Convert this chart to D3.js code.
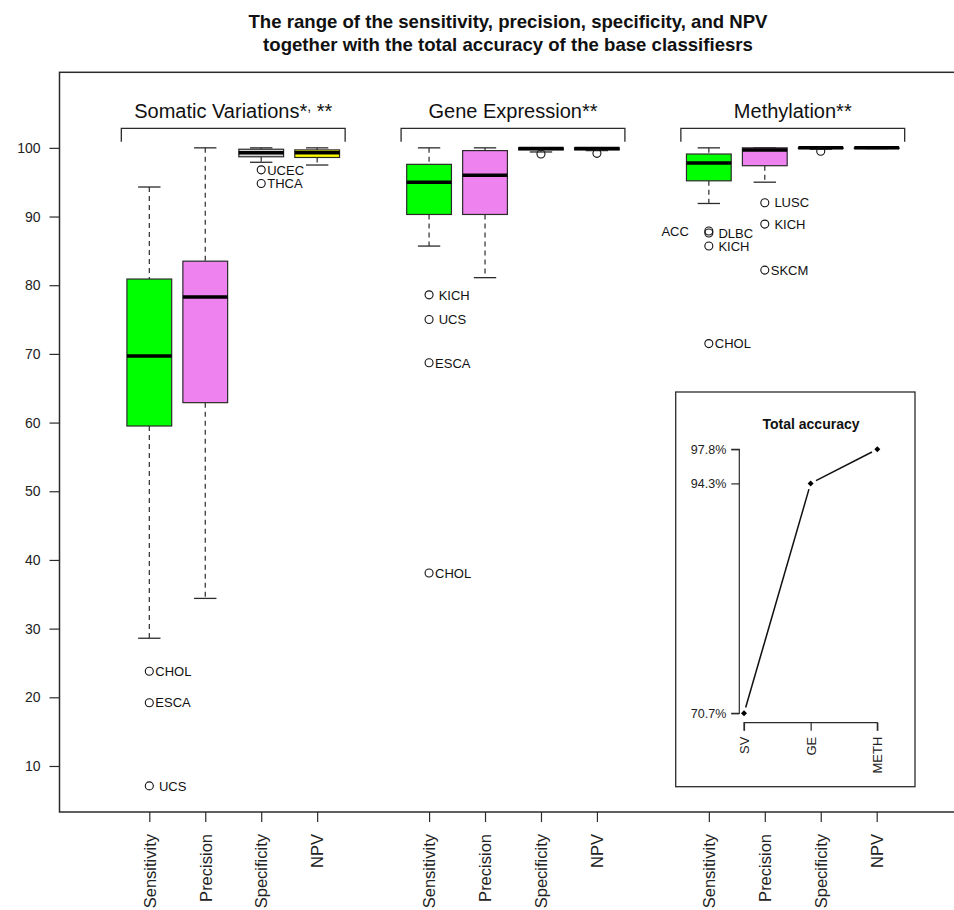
<!DOCTYPE html>
<html>
<head>
<meta charset="utf-8">
<script src="https://cdn.jsdelivr.net/npm/d3@7"></script>
<style>
  body { margin: 0; background: #fff; }
  svg { display: block; font-family: "Liberation Sans", Arial, Helvetica, sans-serif; }
  .pre { white-space: pre; }
</style>
</head>
<body>
<svg id="chart" width="954" height="910"></svg>
<script>
// ---- data -------------------------------------------------------------
const groups = ["Somatic Variations", "Gene Expression", "Methylation"];
const groupSuffix = ["*", "**", "**"];
const measures = ["Sensitivity", "Precision", "Specificity", "NPV"];

// per-box five-number summaries, SV (4), GE (4), METH (4)
const whiskerLow  = [28.6, 34.4, 97.9, 97.5,   85.7, 81.1, 99.4, 99.6,   91.9, 95.0, 99.8, 99.9];
const q1          = [59.5, 62.9, 98.7, 98.6,   90.3, 90.3, 99.7, 99.7,   95.2, 97.4, 99.9, 99.9];
const medians     = [69.7, 78.3, 99.3, 99.3,   95.0, 96.0, 99.9, 99.9,   97.8, 99.7, 100,  100 ];
const q3          = [80.9, 83.5, 99.8, 99.7,   97.6, 99.6, 100,  100,    99.1, 100,  100,  100 ];
const whiskerHigh = [94.3, 100,  100,  100,    100,  100,  100,  100,    100,  100,  100,  100 ];

// outliers: box index, value, label, label side
const outlierBox   = [0, 0, 0, 2, 2,   4, 4, 4, 4, 6, 7,   8, 8, 8, 8, 9, 9, 9, 10];
const outlierValue = [23.8, 19.2, 7.1, 96.8, 94.8,   78.6, 75.0, 68.7, 38.1, 99.1, 99.2,
                      87.9, 87.6, 85.7, 71.5, 92.0, 88.9, 82.2, 99.5];
const outlierLabel = ["CHOL", "ESCA", " UCS", "UCEC", "THCA",
                      " KICH", " UCS", "ESCA", "CHOL", "", "",
                      "ACC", " DLBC", " KICH", "CHOL", " LUSC", " KICH", "SKCM", ""];
const outlierSide  = ["r","r","r","r","r", "r","r","r","r","r","r", "l","r","r","r","r","r","r","r"];

// total accuracy inset
const accCategories = ["SV", "GE", "METH"];
const accValues = [70.7, 94.3, 97.8];

// box positions on the axis (two empty slots between groups)
const boxPositions = [1, 2, 3, 4, 6, 7, 8, 9, 11, 12, 13, 14];
const measureFill = ["#00ff00", "#ee82ee", "#d3d3d3", "#ffff00"];

// ---- layout -----------------------------------------------------------
const svg = d3.select("#chart");
const plot = { left: 59.5, top: 72.3, right: 955, bottom: 812 };

const x = d3.scaleLinear().domain([1, 14]).range([149.3, 876.7]);
const y = d3.scaleLinear().domain([3.3, 111.0]).range([plot.bottom, plot.top]);
const slot = x(2) - x(1);
const boxW = slot * 0.8;
const stapleW = boxW * 0.5;
const ink = "#2b2b2b";

// title
const title = svg.append("text")
  .attr("x", 507).attr("text-anchor", "middle")
  .style("font-weight", "bold").style("font-size", "18.6px").attr("fill", "#111");
title.append("tspan").attr("x", 508).attr("y", 28)
  .text("The range of the sensitivity, precision, specificity, and NPV");
title.append("tspan").attr("x", 508).attr("y", 51)
  .text("together with the total accuracy of the base classifiesrs");

// frame
svg.append("rect")
  .attr("x", plot.left).attr("y", plot.top)
  .attr("width", plot.right - plot.left).attr("height", plot.bottom - plot.top)
  .attr("fill", "none").attr("stroke", ink).attr("stroke-width", 1.5);

// y axis
const yAxis = d3.axisLeft(y).tickValues(d3.range(10, 101, 10)).tickSize(10).tickPadding(9);
const gy = svg.append("g").attr("transform", `translate(${plot.left},0)`).call(yAxis);
gy.select(".domain").remove();
gy.selectAll(".tick line").attr("stroke", ink).attr("stroke-width", 1.2);
gy.selectAll(".tick text").style("font-size", "14px").attr("fill", "#222");

// x axis
const xAxis = d3.axisBottom(x).tickValues(boxPositions).tickSize(10).tickPadding(0)
  .tickFormat((d, i) => measures[i % 4]);
const gx = svg.append("g").attr("transform", `translate(0,${plot.bottom})`).call(xAxis);
gx.select(".domain").remove();
gx.selectAll(".tick line").attr("stroke", ink).attr("stroke-width", 1.2);
gx.selectAll(".tick text")
  .style("font-size", "16.5px").attr("fill", "#222")
  .attr("transform", "rotate(-90)")
  .attr("x", -22).attr("y", 0).attr("dy", "0.35em")
  .attr("text-anchor", "end");

// group brackets and labels
groups.forEach((g, gi) => {
  const x0 = x(boxPositions[gi * 4]) - slot / 2;
  const x1 = x(boxPositions[gi * 4 + 3]) + slot / 2;
  const yTop = plot.top + 56;
  svg.append("path")
    .attr("d", `M${x0},${yTop + 13.4}V${yTop}H${x1}V${yTop + 13.4}`)
    .attr("fill", "none").attr("stroke", ink).attr("stroke-width", 1.3);
  const t = svg.append("text")
    .attr("x", (x0 + x1) / 2).attr("y", yTop - 10)
    .attr("text-anchor", "middle").style("font-size", "20px").attr("fill", "#111");
  t.append("tspan").text(g + groupSuffix[gi]);
  if (gi === 0) {
    t.append("tspan").attr("dy", -7).style("font-size", "14px").text(",");
    t.append("tspan").attr("dy", 7).text(" **");
  }
});

// boxes
const boxes = svg.append("g");
boxPositions.forEach((p, i) => {
  const cx = x(p);
  const g = boxes.append("g");
  // whiskers
  g.append("line").attr("x1", cx).attr("x2", cx)
    .attr("y1", y(whiskerHigh[i])).attr("y2", y(q3[i]))
    .attr("stroke", ink).attr("stroke-width", 1.2).attr("stroke-dasharray", "5,4");
  g.append("line").attr("x1", cx).attr("x2", cx)
    .attr("y1", y(q1[i])).attr("y2", y(whiskerLow[i]))
    .attr("stroke", ink).attr("stroke-width", 1.2).attr("stroke-dasharray", "5,4");
  // staples
  [whiskerHigh[i], whiskerLow[i]].forEach(v => {
    g.append("line").attr("x1", cx - stapleW / 2).attr("x2", cx + stapleW / 2)
      .attr("y1", y(v)).attr("y2", y(v))
      .attr("stroke", ink).attr("stroke-width", 1.3);
  });
  // box
  g.append("rect")
    .attr("x", cx - boxW / 2).attr("width", boxW)
    .attr("y", y(q3[i])).attr("height", Math.max(0, y(q1[i]) - y(q3[i])))
    .attr("fill", measureFill[i % 4]).attr("stroke", ink).attr("stroke-width", 1.2);
  // median
  g.append("line").attr("x1", cx - boxW / 2).attr("x2", cx + boxW / 2)
    .attr("y1", y(medians[i])).attr("y2", y(medians[i]))
    .attr("stroke", "#000").attr("stroke-width", 3.5);
});

// outliers
const outs = svg.append("g");
outlierValue.forEach((v, k) => {
  const cx = x(boxPositions[outlierBox[k]]);
  const cy = y(v);
  outs.append("circle").attr("cx", cx).attr("cy", cy).attr("r", 4)
    .attr("fill", "none").attr("stroke", "#111").attr("stroke-width", 1.1);
  if (outlierLabel[k]) {
    const left = outlierSide[k] === "l";
    outs.append("text").attr("class", "pre")
      .attr("x", left ? cx - 20 : cx + 6).attr("y", cy).attr("dy", "0.36em")
      .attr("text-anchor", left ? "end" : "start")
      .style("font-size", "13px").attr("fill", "#111")
      .text(outlierLabel[k]);
  }
});

// ---- inset: total accuracy -------------------------------------------
const inset = { left: 675.7, top: 392, right: 915, bottom: 786.7 };
svg.append("rect")
  .attr("x", inset.left).attr("y", inset.top)
  .attr("width", inset.right - inset.left).attr("height", inset.bottom - inset.top)
  .attr("fill", "#fff").attr("stroke", ink).attr("stroke-width", 1.3);

const ix = d3.scalePoint().domain(accCategories).range([744, 877.3]);
const iy = d3.scaleLinear().domain([70.7, 97.8]).range([713.3, 449.3]);

svg.append("text").attr("x", 811).attr("y", 429).attr("text-anchor", "middle")
  .style("font-weight", "bold").style("font-size", "14px").attr("fill", "#111")
  .text("Total accuracy");

const iyAxis = d3.axisLeft(iy).tickValues(accValues).tickSize(8).tickPadding(5)
  .tickFormat(d => d.toFixed(1) + "%");
const giy = svg.append("g").attr("transform", "translate(739.3,0)").call(iyAxis);
giy.select(".domain").attr("stroke", ink).attr("stroke-width", 1.2).attr("d", `M-8,${iy(97.8)}H0V${iy(70.7)}H-8`);
giy.selectAll(".tick line").attr("stroke", ink).attr("stroke-width", 1.2);
giy.selectAll(".tick text").style("font-size", "12.5px").attr("fill", "#222");

const ixAxis = d3.axisBottom(ix).tickSize(8).tickPadding(0);
const gix = svg.append("g").attr("transform", "translate(0,722.7)").call(ixAxis);
gix.select(".domain").attr("stroke", ink).attr("stroke-width", 1.2)
  .attr("d", `M${ix("SV")},8V0H${ix("METH")}V8`);
gix.selectAll(".tick line").attr("stroke", ink).attr("stroke-width", 1.2);
gix.selectAll(".tick text")
  .style("font-size", "13px").attr("fill", "#222")
  .attr("transform", "rotate(-90)")
  .attr("x", -14).attr("y", 0).attr("dy", "0.35em")
  .attr("text-anchor", "end");

// connecting segments with small gaps at each point
const pts = accCategories.map((c, i) => [ix(c), iy(accValues[i])]);
const gap = 6;
for (let i = 0; i < pts.length - 1; i++) {
  const [xa, ya] = pts[i], [xb, yb] = pts[i + 1];
  const len = Math.hypot(xb - xa, yb - ya);
  const ux = (xb - xa) / len, uy = (yb - ya) / len;
  svg.append("line")
    .attr("x1", xa + ux * gap).attr("y1", ya + uy * gap)
    .attr("x2", xb - ux * gap).attr("y2", yb - uy * gap)
    .attr("stroke", "#111").attr("stroke-width", 1.5);
}
svg.append("g").selectAll("path").data(pts).join("path")
  .attr("transform", d => `translate(${d[0]},${d[1]}) rotate(45)`)
  .attr("d", d3.symbol().type(d3.symbolSquare).size(18))
  .attr("fill", "#000");
</script>
</body>
</html>
